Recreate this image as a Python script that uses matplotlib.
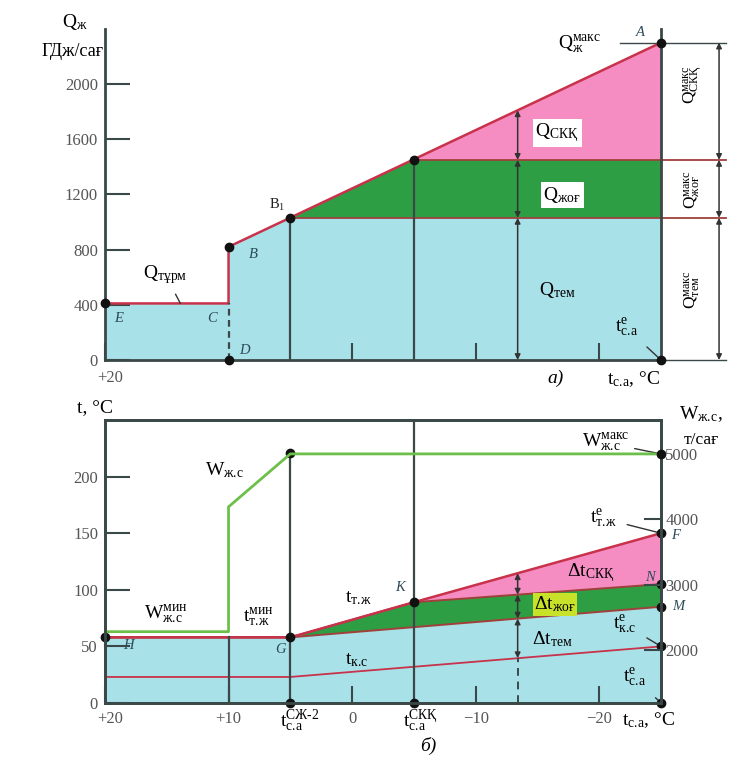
import matplotlib.pyplot as plt
import matplotlib.transforms as mtransforms
import numpy as np

plt.rcParams['font.family'] = ['Liberation Serif', 'DejaVu Serif']
plt.rcParams['mathtext.fontset'] = 'custom'
plt.rcParams['mathtext.rm'] = 'Liberation Serif'
plt.rcParams['mathtext.it'] = 'Liberation Serif:italic'
plt.rcParams['mathtext.fallback'] = 'stixsans'

# --- a) графиктің деректері (t сыртқы ауа, Q жылу жүктемесі) ---
t_E, t_C, t_B1, t_K, t_A = 20, 10, 5, -5, -25
Q_turm = 410          # E-C
Q_B = 820             # B
Q_B1 = 1030           # B1 (тем шегі)
Q_peak = 1450         # жоғ шегі
Q_max = 2300          # A
t_arrow = -13.4       # өлшем бағыттауыштары
t_dim = -29.7         # оң жақтағы өлшем сызығы
t_ext = -30.3

# --- б) графиктің деректері ---
t_b = [20, 5, -5, -25]
t_supply = [58, 58, 89, 150]    # H, G, K, F
t_upper = [58, 58, 89, 105]     # ... N
t_M = [58, 58, 67, 85]          # ... M
t_return = [23, 23, 32, 50]     # t_к.с
W_t = [20, 10, 10, 5, -25]
W_flow = [2280, 2280, 4190, 5000, 5000]

cyan = '#a9e1e8'
pink = '#f58cc2'
green = '#2e9e44'
red = '#c8324a'
brown = '#a0403a'
dark = '#3a4848'
wgreen = '#6cc04a'
letter_c = '#2d4a5a'

fs = 14
tick_fs = 12
fig = plt.figure(figsize=(7.29, 7.6), dpi=100)
shift = mtransforms.ScaledTranslation(5 / 100, 0, fig.dpi_scale_trans)

# ================= a) =================
ax = fig.add_axes([0.1440, 0.5263, 0.7627, 0.4358])
ax.set_xlim(20, -25)
ax.set_ylim(0, 2400)

def q_line(t):
    return np.interp(-t, [-t_C, -t_A], [Q_B, Q_max])

ax.fill([t_E, t_E, t_C, t_C, t_B1, t_A, t_A],
        [0, Q_turm, Q_turm, Q_B, Q_B1, Q_B1, 0], color=cyan, lw=0)
ax.fill([t_B1, t_K, t_A, t_A], [Q_B1, Q_peak, Q_peak, Q_B1], color=green, lw=0)
ax.fill([t_K, t_A, t_A], [Q_peak, Q_max, Q_peak], color=pink, lw=0)

ax.plot([t_B1, t_ext], [Q_B1, Q_B1], color=brown, lw=1.3, clip_on=False)
ax.plot([t_K, t_ext], [Q_peak, Q_peak], color=brown, lw=1.3, clip_on=False)
ax.plot([-21.7, t_ext], [Q_max, Q_max], color=dark, lw=1.0, clip_on=False)
ax.plot([t_A, t_ext], [0, 0], color=dark, lw=1.0, clip_on=False)
ax.plot([t_E, t_C, t_C, t_A], [Q_turm, Q_turm, Q_B, Q_max], color=red, lw=1.8)
ax.plot([t_C, t_C], [0, Q_turm], color=dark, lw=1.6, ls=(0, (3, 2)))
ax.plot([t_B1, t_B1], [0, Q_B1], color=dark, lw=1.6)
ax.plot([t_K, t_K], [0, Q_peak], color=dark, lw=1.6)

ax.plot([t_E, t_C, t_C, t_B1, t_K, t_A, t_A],
        [Q_turm, Q_B, 0, Q_B1, Q_peak, Q_max, 0],
        'o', color='#111', ms=6, ls='none', clip_on=False, zorder=5)

arr = dict(arrowstyle='<|-|>', color='#333', lw=1.1, mutation_scale=8,
           shrinkA=0, shrinkB=0)
for lo, hi in [(0, Q_B1), (Q_B1, Q_peak), (Q_peak, q_line(t_arrow))]:
    ax.annotate('', xy=(t_arrow, lo), xytext=(t_arrow, hi), arrowprops=arr)
for lo, hi in [(0, Q_B1), (Q_B1, Q_peak), (Q_peak, Q_max)]:
    ax.annotate('', xy=(t_dim, lo), xytext=(t_dim, hi), arrowprops=arr,
                annotation_clip=False)

ax.spines['top'].set_visible(False)
for s in ['left', 'right', 'bottom']:
    ax.spines[s].set_color(dark)
    ax.spines[s].set_linewidth(2.0)
ax.set_yticks([0, 400, 800, 1200, 1600, 2000])
ax.set_xticks([20, 0, -10, -20])
ax.set_xticklabels(['+20', '', '', ''])
ax.tick_params(axis='y', direction='in', length=18, width=1.5, color=dark,
               labelsize=tick_fs, labelcolor='#555', pad=5)
ax.tick_params(axis='x', direction='in', length=12, width=1.5, color=dark,
               labelsize=tick_fs, labelcolor='#555', pad=7)
ax.tick_params(axis='y', right=False)
lab = ax.get_xticklabels()[0]
lab.set_transform(lab.get_transform() + shift)

ax.text(-18.4, 2283, r'$\mathrm{Q_{ж}^{макс}}$', fontsize=fs, ha='center', va='center')
ax.text(-23.3, 2370, 'A', fontsize=10.5, style='italic', color=letter_c, ha='center', va='center')
ax.text(6.1, 1123, r'$\mathrm{B_1}$', fontsize=10.5, style='italic', color='#222', ha='center', va='center')
ax.text(8.0, 761, 'B', fontsize=10.5, style='italic', color=letter_c, ha='center', va='center')
ax.text(18.9, 304, 'E', fontsize=10.5, style='italic', color=letter_c, ha='center', va='center')
ax.text(11.3, 304, 'C', fontsize=10.5, style='italic', color=letter_c, ha='center', va='center')
ax.text(8.7, 72, 'D', fontsize=10.5, style='italic', color=letter_c, ha='center', va='center')
ax.annotate(r'$\mathrm{Q_{тұрм}}$', xy=(13.9, Q_turm), xytext=(15.1, 616),
            fontsize=fs, ha='center', va='center',
            arrowprops=dict(arrowstyle='-', color='#333', lw=1.0, shrinkA=4, shrinkB=0))
ax.text(-16.6, 1645, r'$\mathrm{Q_{СКҚ}}$', fontsize=fs, ha='center', va='center',
        bbox=dict(facecolor='white', edgecolor='none', pad=2))
ax.text(-17.0, 1196, r'$\mathrm{Q_{жоғ}}$', fontsize=fs, ha='center', va='center',
        bbox=dict(facecolor='white', edgecolor='none', pad=2))
ax.text(-16.6, 507, r'$\mathrm{Q_{тем}}$', fontsize=fs, ha='center', va='center')
ax.annotate(r'$\mathrm{t_{с.\!а}^{е}}$', xy=(t_A, 0), xytext=(-22.2, 232),
            fontsize=fs, ha='center', va='center',
            arrowprops=dict(arrowstyle='-', color='#333', lw=1.0, shrinkA=6, shrinkB=0))
for yv, s in [(1993, r'$\mathrm{Q_{СКҚ}^{макс}}$'), (1232, r'$\mathrm{Q_{жоғ}^{макс}}$'),
              (507, r'$\mathrm{Q_{тем}^{макс}}$')]:
    ax.text(-27.6, yv, s, fontsize=12.5, rotation=90, ha='center', va='center')
ax.text(-16.5, -135, 'a)', fontsize=14, style='italic', ha='center', va='center')
ax.text(-22.8, -135, r'$\mathrm{t_{с.\!а}}$, °C', fontsize=fs, ha='center', va='center')
fig.text(0.103, 0.971, r'$\mathrm{Q_{ж}}$', fontsize=fs, ha='center', va='center')
fig.text(0.100, 0.932, 'ГДж/сағ', fontsize=13, ha='center', va='center')

# ================= б) =================
bx = fig.add_axes([0.1440, 0.0750, 0.7627, 0.3724])
bx.set_xlim(20, -25)
bx.set_ylim(0, 250)
wx = bx.twinx()
wx.set_ylim(1189, 5519)

bx.fill(t_b + [t_b[-1], t_b[0]], t_M + [0, 0], color=cyan, lw=0)
bx.fill(t_b + t_b[::-1], t_upper + t_M[::-1], color=green, lw=0)
bx.fill(t_b + t_b[::-1], t_supply + t_upper[::-1], color=pink, lw=0)
bx.plot(t_b, t_M, color=brown, lw=1.4)
bx.plot(t_b, t_upper, color=brown, lw=1.4)
bx.plot(t_b, t_supply, color=red, lw=1.8)
bx.plot(t_b, t_return, color=red, lw=1.3)

wx.plot(W_t, W_flow, color=wgreen, lw=2.0)

bx.plot([10, 10], [0, t_supply[0]], color=dark, lw=1.6)
bx.plot([5, 5], [0, 221], color=dark, lw=1.6)
bx.plot([t_b[2], t_b[2]], [0, 250], color=dark, lw=1.6)

def seg(vals, t):
    return np.interp(-t, [-x for x in t_b], vals)

r_a, m_a, u_a, s_a = (seg(v, t_arrow) for v in (t_return, t_M, t_upper, t_supply))
bx.plot([t_arrow, t_arrow], [0, r_a], color=dark, lw=1.4, ls=(0, (4, 3)))
for lo, hi in [(r_a, m_a), (m_a, u_a), (u_a, s_a)]:
    bx.annotate('', xy=(t_arrow, lo), xytext=(t_arrow, hi), arrowprops=arr)

bx.plot([t_b[0], t_b[1], t_b[2], t_b[3], t_b[3], t_b[3], t_b[3], t_b[3], 5, 5, t_b[2]],
        [t_supply[0], t_supply[1], t_supply[2], t_supply[3], t_upper[3], t_M[3],
         t_return[3], 0, 221, 0, 0],
        'o', color='#111', ms=6, ls='none', clip_on=False, zorder=5)
wx.plot([W_t[-1]], [W_flow[-1]], 'o', color='#111', ms=6, clip_on=False, zorder=5)

for a in (bx, wx):
    for s in a.spines.values():
        s.set_color(dark)
        s.set_linewidth(2.0)
bx.set_yticks([0, 50, 100, 150, 200])
bx.tick_params(axis='y', direction='in', length=18, width=1.5, color=dark,
               labelsize=tick_fs, labelcolor='#555', pad=5)
bx.set_xticks([20, 10, 0, -10, -20])
bx.set_xticklabels(['+20', '+10', '0', '\u221210', '\u221220'])
bx.tick_params(axis='x', direction='in', length=12, width=1.5, color=dark,
               labelsize=tick_fs, labelcolor='#555', pad=6)
lab = bx.get_xticklabels()[0]
lab.set_transform(lab.get_transform() + shift)
wx.set_yticks([2000, 3000, 4000, 5000])
wx.tick_params(axis='y', direction='in', length=12, width=1.5, color=dark,
               labelsize=tick_fs, labelcolor='#555', pad=3)

bx.annotate(r'$\mathrm{W_{ж.\!с}^{макс}}$', xy=(-25, 220), xytext=(-20.5, 230),
            fontsize=fs, ha='center', va='center',
            arrowprops=dict(arrowstyle='-', color='#333', lw=1.0, shrinkA=2, shrinkB=0),
            annotation_clip=False)
bx.text(10.3, 206, r'$\mathrm{W_{ж.\!с}}$', fontsize=fs, ha='center', va='center')
bx.text(15.1, 78, r'$\mathrm{W_{ж.\!с}^{мин}}$', fontsize=fs, ha='center', va='center')
bx.text(7.6, 75, r'$\mathrm{t_{т.\!ж}^{мин}}$', fontsize=fs, ha='center', va='center')
bx.text(18.1, 51, 'H', fontsize=10.5, style='italic', color=letter_c, ha='center', va='center')
bx.text(5.8, 47, 'G', fontsize=10.5, style='italic', color=letter_c, ha='center', va='center')
bx.text(-0.5, 93, r'$\mathrm{t_{т.\!ж}}$', fontsize=fs, ha='center', va='center')
bx.text(-3.9, 102, 'K', fontsize=10.5, style='italic', color=letter_c, ha='center', va='center')
bx.text(-0.4, 38, r'$\mathrm{t_{к.\!с}}$', fontsize=fs, ha='center', va='center')
bx.annotate(r'$\mathrm{t_{т.\!ж}^{е}}$', xy=(-25, t_supply[3]), xytext=(-20.3, 163),
            fontsize=fs, ha='center', va='center',
            arrowprops=dict(arrowstyle='-', color='#333', lw=1.0, shrinkA=6, shrinkB=0))
bx.text(-26.2, 148, 'F', fontsize=10.5, style='italic', color=letter_c, ha='center', va='center')
bx.text(-19.3, 115, r'$\Delta\mathrm{t_{СКҚ}}$', fontsize=fs, ha='center', va='center')
bx.text(-24.1, 111, 'N', fontsize=10.5, style='italic', color=letter_c, ha='center', va='center')
bx.text(-16.4, 87, r'$\Delta\mathrm{t_{жоғ}}$', fontsize=fs, ha='center', va='center',
        bbox=dict(facecolor='#c8e22a', edgecolor='none', pad=1))
bx.text(-26.4, 85, 'M', fontsize=10.5, style='italic', color=letter_c, ha='center', va='center')
bx.text(-16.2, 56, r'$\Delta\mathrm{t_{тем}}$', fontsize=fs, ha='center', va='center')
bx.annotate(r'$\mathrm{t_{к.\!с}^{е}}$', xy=(-25, t_return[3]), xytext=(-22.1, 69),
            fontsize=fs, ha='center', va='center',
            arrowprops=dict(arrowstyle='-', color='#333', lw=1.0, shrinkA=6, shrinkB=0))
bx.annotate(r'$\mathrm{t_{с.\!а}^{е}}$', xy=(-25, 0), xytext=(-22.9, 22),
            fontsize=fs, ha='center', va='center',
            arrowprops=dict(arrowstyle='-', color='#333', lw=1.0, shrinkA=6, shrinkB=0))
bx.text(4.2, -16, r'$\mathrm{t_{с.\!а}^{СЖ\text{-}2}}$', fontsize=fs, ha='center', va='center')
bx.text(-5.5, -16, r'$\mathrm{t_{с.\!а}^{СКҚ}}$', fontsize=fs, ha='center', va='center')
bx.text(-24.0, -15, r'$\mathrm{t_{с.\!а}}$, °C', fontsize=fs, ha='center', va='center')
bx.text(-6.2, -38, 'б)', fontsize=14, style='italic', ha='center', va='center')
fig.text(0.13, 0.464, 't, °C', fontsize=fs, ha='center', va='center')
fig.text(0.962, 0.455, r'$\mathrm{W_{ж.\!с}}$,', fontsize=fs, ha='center', va='center')
fig.text(0.962, 0.421, 'т/сағ', fontsize=12.5, ha='center', va='center')

fig.savefig('out.png', dpi=100)
